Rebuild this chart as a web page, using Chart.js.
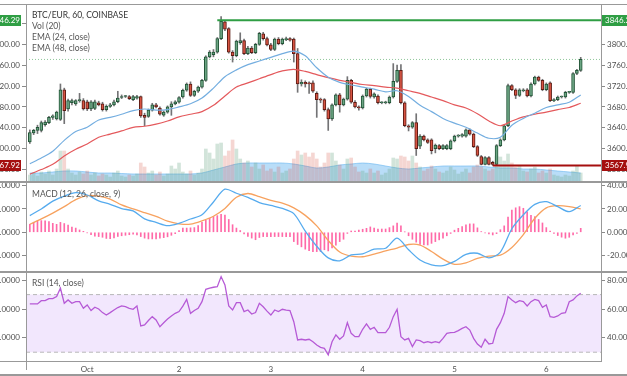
<!DOCTYPE html>
<html>
<head>
<meta charset="utf-8">
<script src="https://cdn.jsdelivr.net/npm/chart.js@4.4.1/dist/chart.umd.min.js"></script>
<style>
  body { margin: 0; width: 627px; height: 376px; overflow: hidden; background: #fff; position: relative; font-family: Lato, "Open Sans", sans-serif; }
  canvas { position: absolute; left: -24px; }
  .rule { position: absolute; background: #999; z-index: 2; }
  .legend { position: absolute; left: 32px; font-size: 8.5px; line-height: 11px; color: #555; white-space: nowrap; z-index: 3; }
  .legend b { font-weight: normal; color: #333; }
</style>
</head>
<body>
<canvas id="priceChart" width="685" height="176" style="top:5px"></canvas>
<canvas id="macdChart" width="685" height="89" style="top:183px"></canvas>
<canvas id="rsiChart" width="685" height="103" style="top:273px"></canvas>

<div class="rule" style="left:0;top:4px;width:627px;height:1px"></div>
<div class="rule" style="left:0;top:181px;width:627px;height:2px"></div>
<div class="rule" style="left:0;top:271px;width:627px;height:2px"></div>
<div class="rule" style="left:0;top:361px;width:602px;height:1px"></div>
<div class="rule" style="left:0;top:374px;width:627px;height:2px"></div>
<div class="rule" style="left:26px;top:4px;width:1px;height:366px"></div>
<div class="rule" style="left:601px;top:4px;width:1px;height:358px"></div>

<div class="legend" style="top:10px"><b>BTC/EUR, 60, COINBASE</b><br>Vol (20)<br>EMA (24, close)<br>EMA (48, close)</div>
<div class="legend" style="top:189px">MACD (12, 26, close, 9)</div>
<div class="legend" style="top:278px">RSI (14, close)</div>

<script>
// hourly candles, Sep 30 09:00 -> Oct 6 09:00 (index 0..144)
const opens = [3613,3630,3635,3635,3646,3650,3660,3657,3656,3713,3676,3688,3686,3692,3692,
  3690,3676,3677,3688,3686,3675,3681,3684,3690,3698,3700,3700,3694,3697,3700,
  3664,3662,3674,3684,3678,3664,3670,3680,3686,3689,3699,3712,3724,3702,3710,
  3718,3731,3776,3780,3785,3811,3843,3830,3785,3778,3803,3807,3782,3793,3784,
  3800,3820,3811,3799,3790,3810,3801,3809,3811,3810,3782,3724,3727,3726,3726,
  3706,3694,3694,3675,3657,3684,3703,3684,3695,3731,3689,3680,3678,3701,3714,
  3699,3701,3688,3688,3688,3699,3729,3750,3688,3644,3641,3650,3605,3624,3617,
  3617,3600,3606,3600,3600,3600,3615,3624,3624,3624,3636,3628,3604,3585,3570,
  3583,3574,3570,3606,3617,3644,3721,3713,3702,3711,3713,3701,3724,3737,3731,
  3713,3726,3692,3694,3699,3699,3708,3708,3744,3750];
const highs = [3636,3637,3645,3653,3654,3662,3665,3672,3724,3716,3695,3695,3694,3706,3696,
  3693,3692,3693,3691,3689,3684,3687,3693,3710,3703,3702,3702,3702,3702,3701,
  3668,3676,3687,3687,3680,3672,3682,3690,3692,3700,3714,3726,3728,3712,3720,
  3733,3778,3788,3790,3813,3853,3846,3832,3788,3808,3822,3810,3796,3796,3802,
  3823,3823,3814,3802,3812,3813,3812,3814,3813,3812,3792,3732,3730,3728,3730,
  3709,3697,3696,3678,3686,3705,3706,3697,3738,3733,3692,3682,3703,3716,3716,
  3707,3703,3690,3691,3701,3763,3760,3761,3690,3646,3652,3667,3627,3626,3619,
  3619,3609,3608,3608,3608,3617,3626,3627,3629,3638,3638,3630,3606,3587,3585,
  3585,3576,3608,3619,3646,3724,3723,3715,3715,3715,3715,3726,3739,3739,3733,
  3726,3728,3696,3701,3701,3710,3710,3746,3752,3775];
const lows = [3610,3627,3629,3632,3643,3648,3656,3655,3654,3648,3672,3684,3683,3689,3674,
  3673,3673,3675,3682,3672,3672,3679,3682,3688,3696,3698,3694,3692,3695,3660,
  3644,3660,3672,3678,3664,3662,3668,3664,3684,3687,3697,3710,3700,3700,3708,
  3716,3729,3774,3776,3783,3809,3826,3783,3766,3776,3800,3780,3780,3782,3782,
  3798,3808,3797,3788,3788,3799,3799,3807,3806,3766,3708,3720,3718,3706,3708,
  3660,3688,3672,3635,3654,3682,3670,3682,3693,3687,3678,3674,3676,3699,3697,
  3697,3686,3686,3686,3686,3697,3727,3686,3642,3634,3639,3587,3600,3615,3610,
  3590,3592,3598,3598,3598,3598,3613,3622,3622,3622,3626,3602,3585,3569,3569,
  3569,3567.92,3568,3604,3615,3642,3711,3696,3700,3709,3699,3699,3722,3729,3711,
  3711,3690,3690,3692,3697,3697,3706,3706,3742,3748];
const closes = [3631,3635,3641,3650,3651,3660,3663,3670,3713,3673,3692,3692,3692,3694,3676,
  3676,3690,3690,3684,3675,3681,3684,3690,3697,3700,3700,3696,3700,3700,3663,
  3660,3674,3684,3680,3666,3670,3680,3686,3690,3698,3712,3724,3702,3710,3718,
  3731,3776,3785,3785,3811,3844,3829,3785,3778,3806,3807,3782,3793,3784,3800,
  3821,3811,3799,3790,3810,3801,3810,3811,3808,3782,3724,3727,3724,3724,3710,
  3694,3693,3675,3657,3684,3703,3684,3695,3731,3689,3680,3678,3701,3714,3700,
  3705,3688,3688,3689,3699,3729,3750,3688,3644,3641,3650,3600,3624,3617,3612,
  3596,3607,3600,3606,3606,3615,3624,3625,3627,3636,3628,3604,3587,3570,3583,
  3570,3570,3606,3617,3644,3721,3713,3702,3713,3713,3701,3724,3737,3731,3713,
  3724,3692,3694,3699,3699,3708,3708,3744,3750,3771];
const volume = [6,8,5,9,7,10,6,12,30,30,12,8,6,9,7,
  10,6,8,5,7,6,4,8,10,5,4,6,5,7,18,
  14,8,10,6,9,5,7,15,12,18,9,7,10,6,8,
  12,32,28,22,37,38,25,30,41,32,22,18,20,14,18,
  12,16,10,12,9,14,8,10,12,22,30,26,28,24,28,
  22,14,18,28,28,20,16,12,22,23,14,9,10,8,12,
  8,10,6,8,12,23,22,25,24,20,25,18,14,10,12,
  15,12,9,8,10,14,11,7,9,12,8,14,16,14,12,
  10,12,25,24,20,27,18,14,15,10,9,12,14,8,10,
  8,12,6,5,4,6,5,10,15,8];

// smooth studies, read every 3rd candle
const sampleStep = 3;
const volMa = [8,8,9,10,10,9,8,8,7.5,7,7,7,7,7,7,8,11,14,17,18,18,18,18,17,15,
  13,14,16,17,18,17,15,13,12,13,14,15,15,15,15,14,13,13,12,12,11,10,9,8];
const ema24 = [3571,3582,3595,3616,3633,3641,3655,3660,3666,3673,3676,3674,3675,3680,3686,
  3697,3716,3738,3751,3761,3768,3775,3782,3787,3778,3755,3737,3727,3722,3718,
  3714,3709,3711,3700,3683,3671,3658,3649,3641,3630,3620,3622,3645,3658,3668,
  3679,3684,3689,3703];
const ema48 = [3551,3560,3570,3586,3599,3609,3622,3628,3634,3641,3643,3647,3653,3661,3666,
  3671,3683,3701,3718,3726,3734,3742,3749,3752,3748,3742,3736,3731,3727,3723,
  3721,3718,3716,3711,3706,3699,3692,3684,3678,3667,3653,3644,3653,3661,3666,
  3670,3675,3679,3687];
const macdLine = [14.3,20,26.7,31,34,32,27,24,20.3,18.3,11.5,8.5,5.7,7.7,11.4,
  15,26,37,33.5,30,25.5,23,20.5,16,1,-12,-22,-24.5,-19.5,-18.5,
  -14.5,-13.7,-5,-15,-23.8,-28,-28.6,-25,-19,-18,-22,-17,3,15,24,
  26.3,22,17.7,23];
const signalLine = [6.9,11.5,16.5,22,28,31.5,31,28.5,23.5,20,16.8,13.7,9.5,7.3,7,
  9.8,13.8,20.5,30,33.3,30.6,27.3,25,21,14.5,5.5,-7,-17,-20.5,-21,
  -18.7,-16,-13.5,-10.5,-11,-16.5,-23,-27.5,-26.2,-22.4,-20.4,-19.6,-13,-2,12,
  21,22.8,22,20];
const macdHist = [6.8,8.6,9.8,10,9.8,9.1,7.7,6.8,8.5,7.5,6.2,4.5,3.6,2,0.8,
  -0.5,-2,-3.3,-3.7,-4.3,-5.3,-5.4,-4.8,-3.6,-3,-2.6,-2.1,-1.7,-2.3,-3.7,
  -5,-5.7,-5.7,-5.7,-5.1,-4.6,-3.9,-2.6,-1.2,1.5,3.5,3.6,3.8,4,5.8,
  8.5,10.3,12,13.5,14.3,15.4,14.8,11,6.5,3.6,1.5,-1.5,-3.6,-5,-6.4,
  -4.5,-3.7,-3.7,-3.7,-3.7,-3.7,-3.7,-3.7,-3.8,-8,-10.5,-12.5,-14.5,-15.8,-16.6,
  -16.6,-16.6,-15,-16,-13.5,-11,-8,-6,-1,1.1,1.1,1.8,2.6,3.4,4.6,
  3.6,2.8,2.8,2.8,4,5.5,8,5.5,0.3,-3,-6,-8.5,-10.5,-10.9,-10.9,
  -9.5,-8,-6.5,-5,-3,-1,1.8,3.4,4.9,6.3,7.2,7.2,3.8,0.6,-0.6,
  -1.5,-2.3,-1.2,2.2,5.5,13,19,21,22,20.6,17.5,14.5,13.4,11,8,
  4,1,-1,-2.8,-4.2,-5.1,-4.3,-2.3,-0.9,3.4];
const rsi = [63.5,63.5,63.5,65.8,65.8,67.2,67.2,68.6,74.4,64,66.3,64,65.1,65.1,60.5,
  62.8,58.9,61.2,60,57.5,55.8,57.5,59.3,61,62.1,61.6,60.5,59.8,62.1,48.2,
  48.9,52,54.7,52.4,47.7,50.5,53,55.2,57,58.2,62,66.7,57,59,60.5,
  65.1,73.7,74.5,75.1,75.5,82.5,76.7,62.1,59.3,64.4,64.4,58.2,59.3,56.5,57.5,
  64,61.6,58.5,55.8,59.3,58.2,59.8,59.2,58.9,51.2,38.5,39,38.5,39,37.3,
  35,33.4,32.7,28.1,37.3,42,39,41.3,50.5,43.1,40.8,40.8,45.9,49.6,45.9,
  47.3,43.6,43.6,43.6,47.3,54.7,59.8,40.8,38.5,39.6,33.9,38.5,38,36.6,37.3,
  36.6,37.3,36.6,39.6,43.1,43.6,43.8,45,46.5,47.7,45.4,39.6,35.7,33.4,39,
  35.7,36.2,45.9,50.5,57,68.6,66.3,64.4,65.8,65.1,62.1,65.1,66.7,65.8,61.2,
  62.8,54.7,54.2,55.2,57,57.5,65.1,66.3,69.1,70.9];

// horizontal levels
const levelValues = [3846.29, 3567.92];
const levelStart = [49, 121];
const levelColors = ['#2f9e44', '#a50f0f'];
const rsiBand = [70, 30];

// axes
const priceTicks = [3560, 3600, 3640, 3680, 3720, 3760, 3800, 3840];
const macdTicks = [-20, 0, 20, 40];
const rsiTicks = [40, 60, 80];
const dayTickIdx = [15, 39, 63, 87, 111, 135];
const dayTickLabels = ['Oct', '2', '3', '4', '5', '6'];

Chart.defaults.font.family = 'Lato, "Open Sans", sans-serif';
Chart.defaults.font.size = 8;
Chart.defaults.color = '#4f4f4f';

const LEFT_W = 50, RIGHT_W = 60;
const xMin = -1, xMax = 149.3;
const idx = opens.map((_, i) => i);
const up = idx.map(i => closes[i] >= opens[i]);
const sampled = arr => arr.map((v, k) => ({x: k * sampleStep, y: v}));
const perCandle = arr => arr.map((v, i) => ({x: i, y: v}));
const flat = (v, from) => [{x: from, y: v}, {x: xMax, y: v}];

function noPadding(s) {
  s.paddingTop = 0; s.paddingBottom = 0; s.paddingLeft = 0; s.paddingRight = 0;
}

function yAxis(position, min, max, tickValues, digits) {
  return {
    position, min, max,
    afterFit: s => { s.width = position === 'left' ? LEFT_W : RIGHT_W; noPadding(s); },
    afterBuildTicks: s => { s.ticks = tickValues.map(v => ({value: v})); },
    border: {display: false},
    grid: {drawOnChartArea: false, drawTicks: true, tickLength: 4, color: '#8a8a8a'},
    ticks: {padding: 2, callback: v => Number(v).toFixed(digits)}
  };
}

function xAxis(show) {
  return {
    type: 'linear', min: xMin, max: xMax, offset: false, display: show,
    grid: {display: false, drawTicks: false}, border: {display: false},
    afterFit: s => { if (show) s.height = 15; noPadding(s); },
    afterBuildTicks: s => { s.ticks = dayTickIdx.map(v => ({value: v})); },
    ticks: {autoSkip: false, maxRotation: 0, padding: 4, color: '#4f4f4f',
      callback: v => dayTickLabels[dayTickIdx.indexOf(v)]}
  };
}

const baseOptions = {
  responsive: false, animation: false, devicePixelRatio: 1, events: [],
  layout: {padding: 0, autoPadding: false},
  plugins: {legend: {display: false}, tooltip: {enabled: false}}
};

const levelBoxes = {
  id: 'levelBoxes',
  afterDraw(chart) {
    const {ctx, chartArea, scales} = chart;
    ctx.save();
    ctx.font = '8px Lato, "Open Sans", sans-serif';
    ctx.textBaseline = 'middle';
    levelValues.forEach((v, k) => {
      const y = Math.round(scales.y.getPixelForValue(v));
      ctx.fillStyle = levelColors[k];
      ctx.fillRect(chartArea.right + 1, y - 5, chart.width - chartArea.right, 11);
      ctx.fillRect(0, y - 5, chartArea.left - 5, 11);
      ctx.fillStyle = '#fff';
      ctx.textAlign = 'left';
      ctx.fillText(v.toFixed(2), chartArea.right + 4, y + 0.5);
      ctx.textAlign = 'right';
      ctx.fillText(v.toFixed(2), chartArea.left - 6, y + 0.5);
    });
    ctx.restore();
  }
};

new Chart(document.getElementById('priceChart'), {
  type: 'bar',
  data: {datasets: [
    {type: 'line', label: 'Vol MA', yAxisID: 'yVol', data: sampled(volMa), fill: 'origin',
      backgroundColor: 'rgba(100,180,240,0.45)', borderColor: 'rgba(100,180,240,0.6)', borderWidth: 1,
      pointRadius: 0, tension: 0.3, order: 9},
    {label: 'Volume', yAxisID: 'yVol', data: perCandle(volume), grouped: false, barThickness: 3,
      backgroundColor: up.map(u => u ? 'rgba(107,165,131,0.3)' : 'rgba(215,84,66,0.24)'), order: 8},
    {type: 'line', label: 'Last', data: flat(closes[closes.length - 1], xMin), borderColor: '#8fc79a',
      borderWidth: 1, borderDash: [1, 2], pointRadius: 0, order: 7},
    {label: 'Wick', data: idx.map(i => ({x: i, y: [lows[i], highs[i]]})), grouped: false, barThickness: 1,
      backgroundColor: '#737375', order: 6},
    {label: 'Body', data: idx.map(i => ({x: i, y: [opens[i], closes[i]]})), grouped: false, barThickness: 3,
      minBarLength: 1, borderWidth: 1, borderSkipped: false,
      backgroundColor: up.map(u => u ? '#6ba583' : '#d75442'),
      borderColor: up.map(u => u ? '#225437' : '#5b1a13'), order: 5},
    {type: 'line', label: 'EMA 48', data: sampled(ema48), borderColor: '#e4595c', borderWidth: 1.2,
      pointRadius: 0, tension: 0.3, order: 4},
    {type: 'line', label: 'EMA 24', data: sampled(ema24), borderColor: '#74aee0', borderWidth: 1.2,
      pointRadius: 0, tension: 0.3, order: 3},
    {type: 'line', label: 'High', data: flat(levelValues[0], levelStart[0]), borderColor: levelColors[0],
      borderWidth: 2, pointRadius: 0, order: 2},
    {type: 'line', label: 'Low', data: flat(levelValues[1], levelStart[1]), borderColor: levelColors[1],
      borderWidth: 2, pointRadius: 0, order: 1}
  ]},
  options: {...baseOptions, scales: {
    x: xAxis(false),
    y: yAxis('left', 3538.1, 3875.3, priceTicks, 2),
    yR: yAxis('right', 3538.1, 3875.3, priceTicks, 2),
    yVol: {display: false, min: 0, max: 176}
  }},
  plugins: [levelBoxes]
});

new Chart(document.getElementById('macdChart'), {
  type: 'bar',
  data: {datasets: [
    {type: 'line', label: 'MACD', data: sampled(macdLine), borderColor: '#56abee', borderWidth: 1.3,
      pointRadius: 0, tension: 0.3, order: 1},
    {type: 'line', label: 'Signal', data: sampled(signalLine), borderColor: '#f7a25f', borderWidth: 1.3,
      pointRadius: 0, tension: 0.3, order: 2},
    {label: 'Histogram', data: perCandle(macdHist), grouped: false, barThickness: 1,
      backgroundColor: '#ff6aa8', order: 3}
  ]},
  options: {...baseOptions, scales: {
    x: xAxis(false),
    y: yAxis('left', -34.1, 42.3, macdTicks, 4),
    yR: yAxis('right', -34.1, 42.3, macdTicks, 4)
  }}
});

new Chart(document.getElementById('rsiChart'), {
  type: 'line',
  data: {datasets: [
    {label: 'RSI', data: perCandle(rsi), borderColor: '#b65ad6', borderWidth: 1.3, pointRadius: 0, order: 0},
    {label: 'Upper', data: flat(rsiBand[0], xMin), borderColor: '#b8b8b8', borderWidth: 1,
      borderDash: [4, 3], pointRadius: 0, fill: false, order: 1},
    {label: 'Lower', data: flat(rsiBand[1], xMin), borderColor: '#b8b8b8', borderWidth: 1,
      borderDash: [4, 3], pointRadius: 0, fill: '-1', backgroundColor: 'rgba(150,60,240,0.12)', order: 2}
  ]},
  options: {...baseOptions, scales: {
    x: xAxis(true),
    y: yAxis('left', 23.9, 85, rsiTicks, 4),
    yR: yAxis('right', 23.9, 85, rsiTicks, 4)
  }}
});
</script>
</body>
</html>
